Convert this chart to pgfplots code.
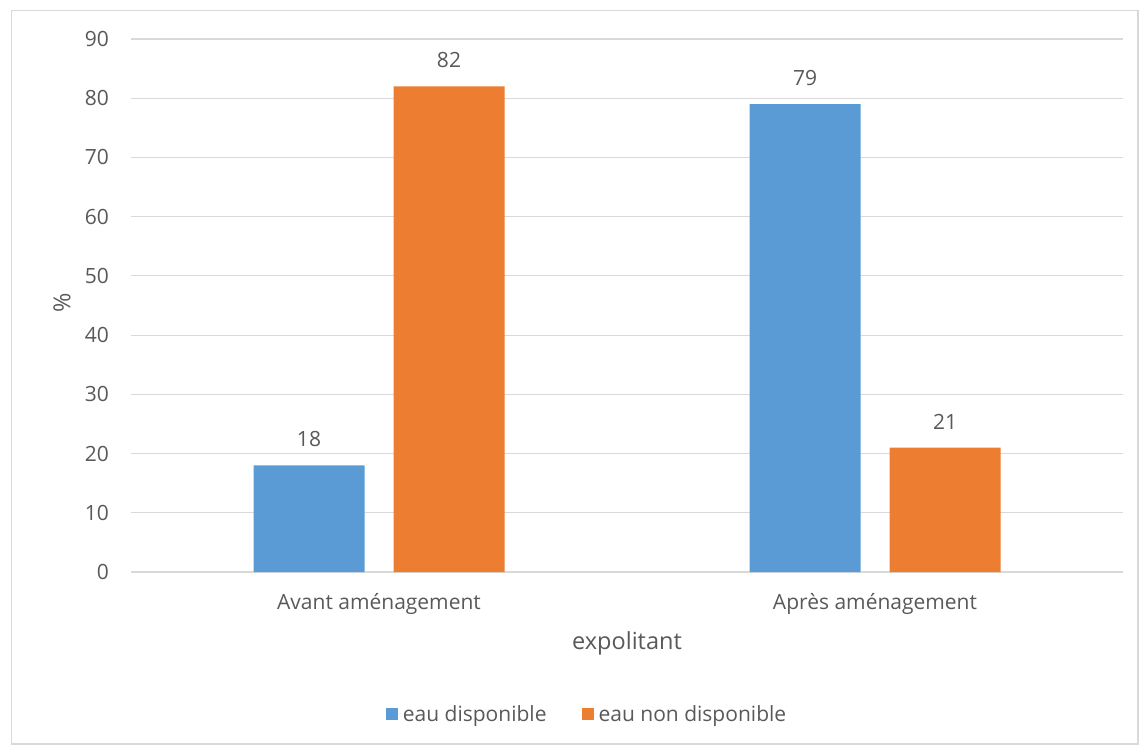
\documentclass[border=0pt]{standalone}
\usepackage{fontspec}
\setmainfont{Open Sans}
\usepackage{pgfplots}
\pgfplotsset{compat=1.18}
\definecolor{cblue}{HTML}{5B9BD5}
\definecolor{corange}{HTML}{ED7D31}
\definecolor{ctext}{HTML}{595959}
\definecolor{cgrid}{HTML}{D9D9D9}
\newcommand{\cf}{\fontsize{21}{25}\selectfont}
\newcommand{\ct}{\fontsize{23.5}{28}\selectfont}
\begin{document}
\begin{tikzpicture}[x=1pt,y=1pt]
\useasboundingbox (0,0) rectangle (1139,745);
\draw[cgrid, line width=1.5pt] (11.5,0.8) rectangle (1138.2,734.5);
\begin{axis}[
  at={(131pt,173pt)}, anchor=south west, scale only axis,
  width=992pt, height=533pt,
  xmin=-0.5, xmax=1.5, ymin=0, ymax=90,
  xtick={0,1}, xticklabels={Avant aménagement, Après aménagement},
  ytick={0,10,...,90},
  ymajorgrids, grid style={cgrid, line width=1.2pt},
  axis line style={draw=none},
  major tick length=0pt,
  ybar, bar width=111pt,
  clip=false,
  /pgf/number format/assume math mode=true,
  every tick label/.append style={font=\cf, text=ctext},
  xticklabel style={anchor=center, inner sep=0pt, yshift=-32pt},
  yticklabel style={anchor=east, inner sep=0pt, xshift=-22pt},
  xlabel={expolitant},
  ylabel={\%},
  label style={font=\ct, text=ctext},
  xlabel style={at={(axis description cs:0.5,-0.1332)}, anchor=center, inner sep=0pt},
  ylabel style={at={(axis description cs:-0.0696,0.505)}, anchor=center, inner sep=0pt},
  nodes near coords,
  nodes near coords style={font=\cf, text=ctext, anchor=center, inner sep=0pt, yshift=26pt},
  legend style={at={(0.4597,-0.2664)}, anchor=center, draw=none, fill=none,
    legend columns=2, font=\cf, text=ctext,
    /tikz/every even column/.append style={column sep=33pt}},
  legend image code/.code={\fill[#1] (0pt,-6pt) rectangle (12pt,6pt); \path (0pt,0pt) -- (15pt,0pt);},
]
\addplot[fill=cblue, draw=none, bar shift=-70pt] coordinates {(0,18) (1,79)};
\addplot[fill=corange, draw=none, bar shift=70pt] coordinates {(0,82) (1,21)};
\legend{eau disponible, eau non disponible}
\end{axis}
\end{tikzpicture}
\end{document}
